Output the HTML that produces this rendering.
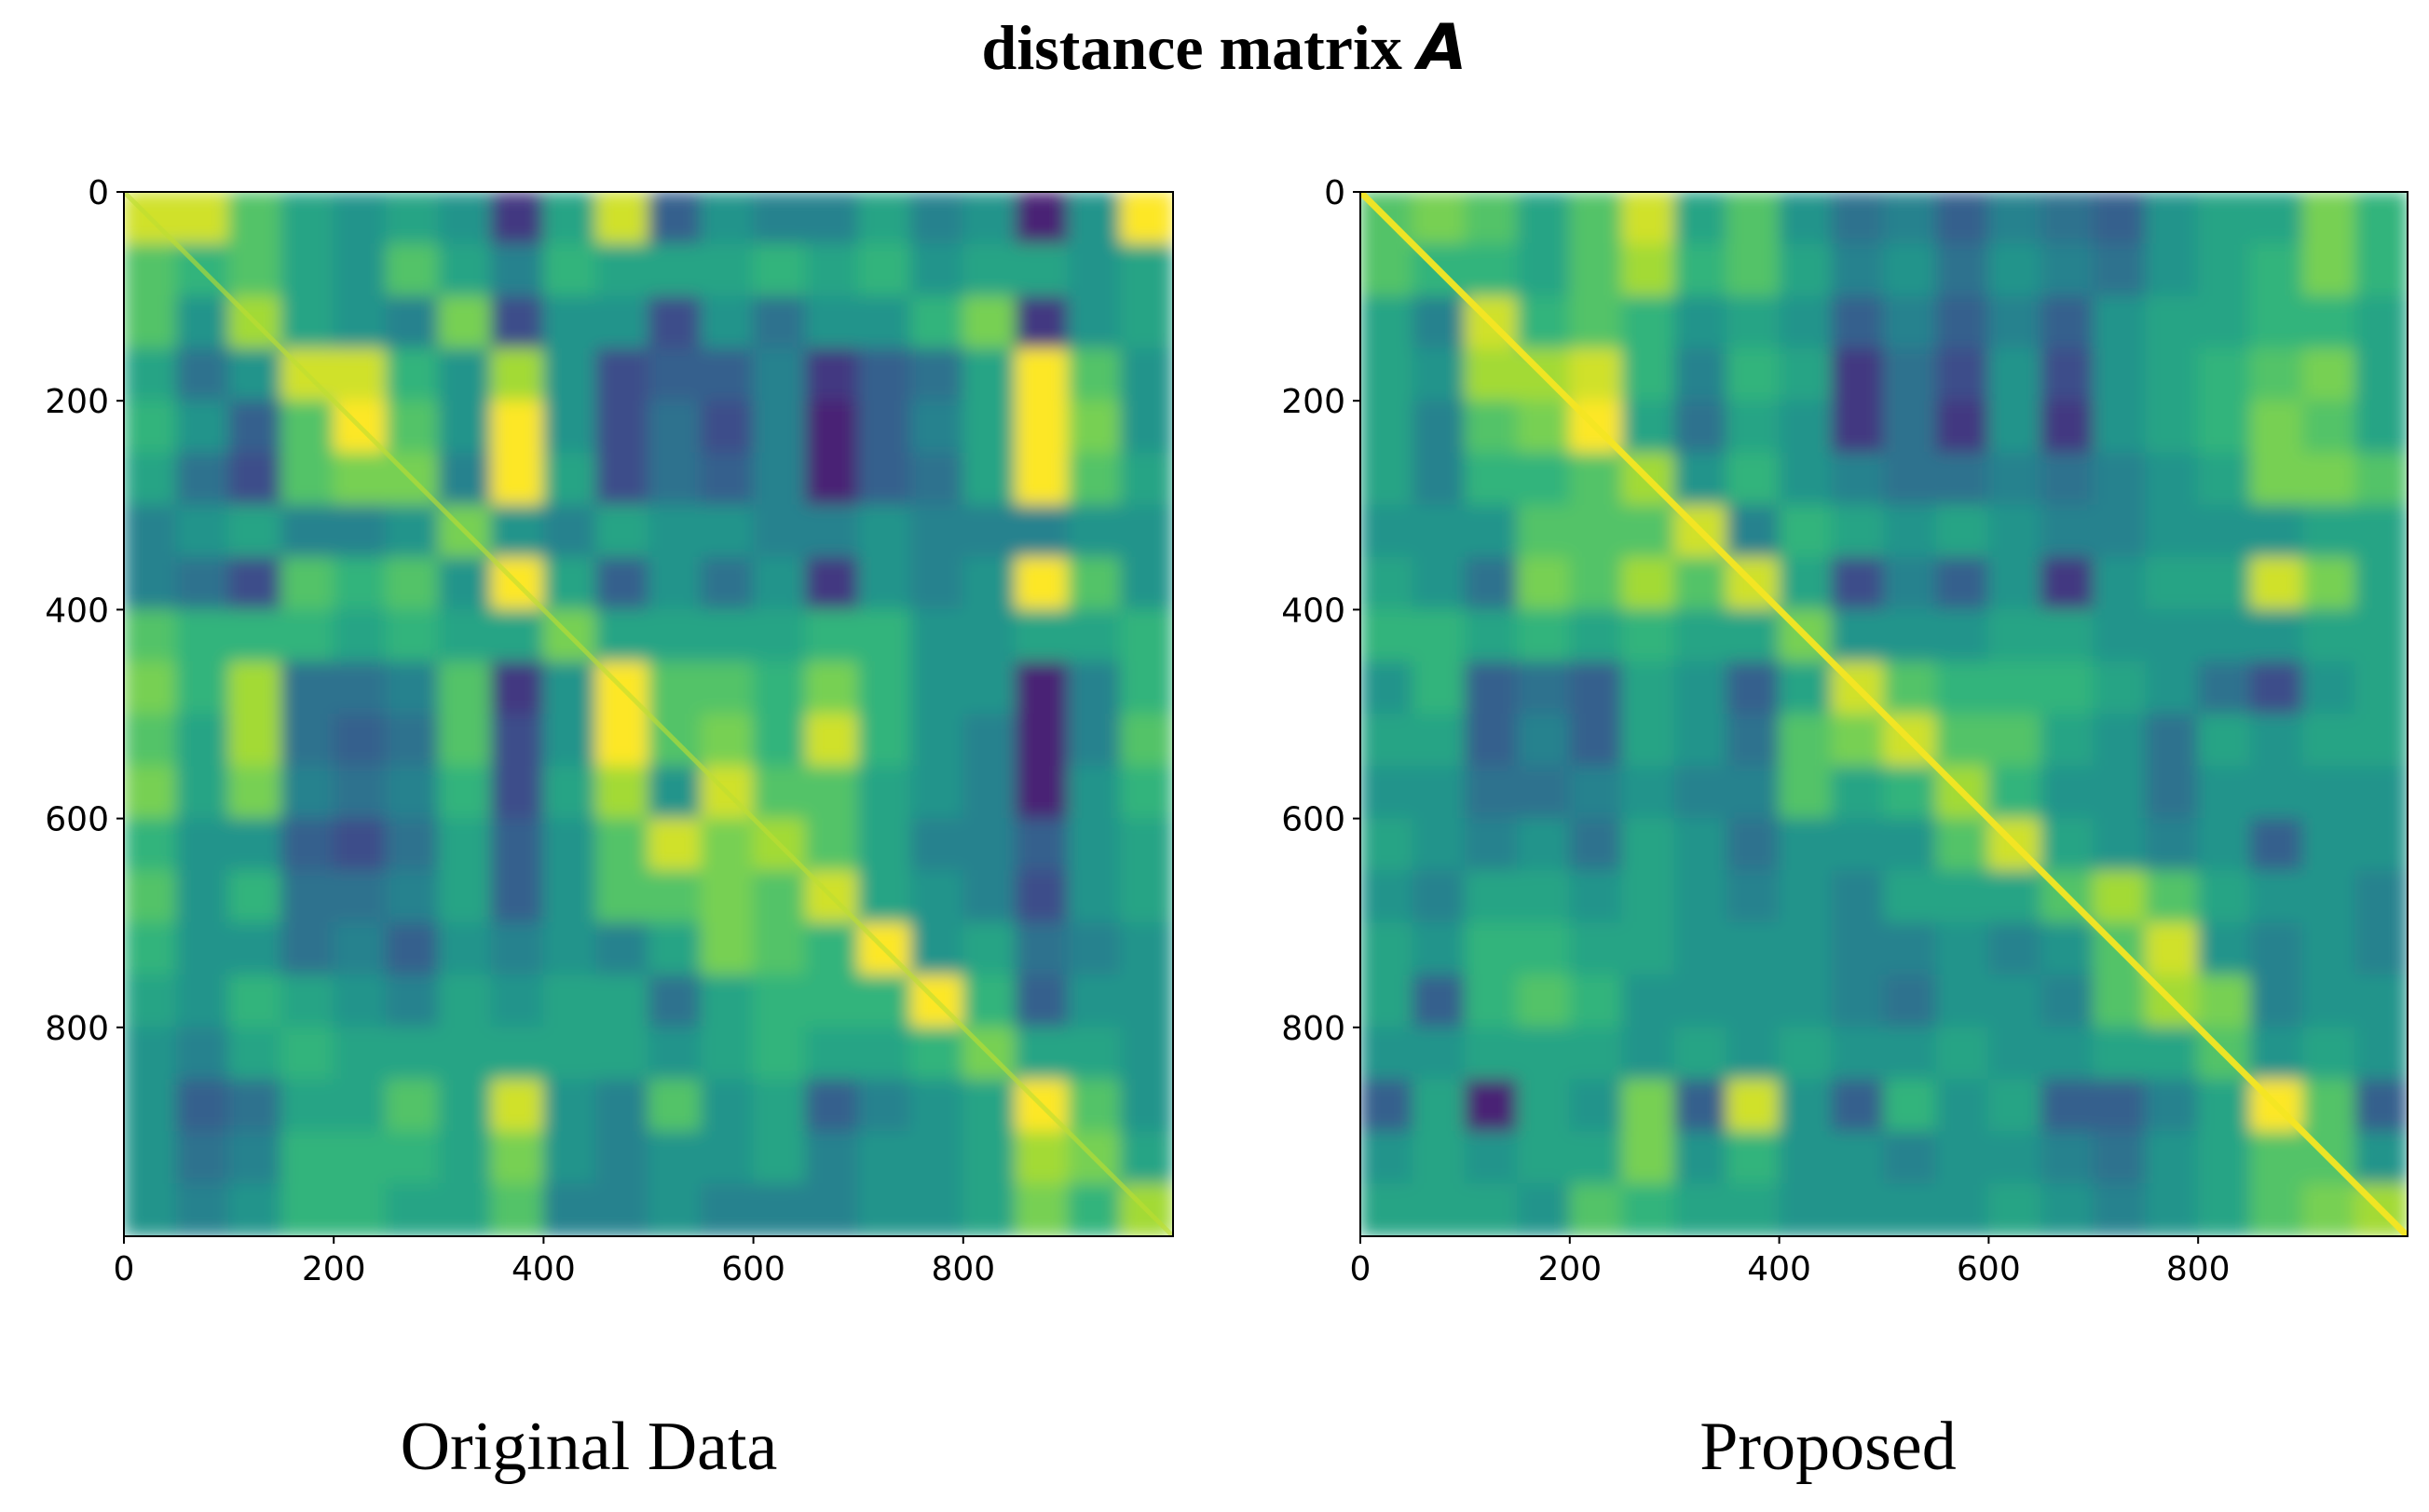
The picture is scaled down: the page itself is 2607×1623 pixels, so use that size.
<!DOCTYPE html>
<html><head><meta charset="utf-8"><style>
html,body{margin:0;padding:0;background:#fff;}
svg{display:block;}
</style></head><body>
<svg id="fig" width="2607" height="1623" viewBox="0 0 2607 1623" xmlns="http://www.w3.org/2000/svg">
<defs>
<filter id="soft" x="0" y="0" width="1" height="1" filterUnits="objectBoundingBox">
<feGaussianBlur stdDeviation="9" edgeMode="duplicate"/>
</filter>
<clipPath id="clipL"><rect x="133" y="206" width="1126" height="1121"/></clipPath>
<clipPath id="clipR"><rect x="1460" y="206" width="1124" height="1121"/></clipPath>
</defs>
<text x="1314" y="74" text-anchor="middle" font-family="Liberation Serif, serif" font-weight="bold" font-size="68">distance matrix 𝘼</text>
<text x="632" y="1577" text-anchor="middle" font-family="Liberation Serif, serif" font-size="74">Original Data</text>
<text x="1962" y="1577" text-anchor="middle" font-family="Liberation Serif, serif" font-size="74">Proposed</text>
<g id="panelL"></g>
<g id="panelR"></g>
</svg>
<script>
const ticks = [0,200,400,600,800];
const tickLabels = ["0","200","400","600","800"];
const nPoints = 1000;
const origData = [
[0.75,0.75,0.6,0.5,0.45,0.5,0.45,0.2,0.5,0.75,0.3,0.45,0.4,0.4,0.5,0.4,0.45,0.15,0.45,0.8],
[0.6,0.55,0.6,0.5,0.45,0.6,0.5,0.4,0.55,0.5,0.5,0.5,0.55,0.5,0.55,0.45,0.5,0.5,0.45,0.5],
[0.6,0.45,0.7,0.5,0.45,0.4,0.65,0.25,0.45,0.45,0.25,0.45,0.35,0.45,0.45,0.55,0.65,0.2,0.45,0.5],
[0.5,0.35,0.45,0.75,0.75,0.55,0.45,0.7,0.45,0.25,0.3,0.3,0.4,0.2,0.3,0.35,0.5,0.8,0.6,0.45],
[0.55,0.45,0.3,0.6,0.8,0.6,0.45,0.8,0.45,0.25,0.35,0.25,0.4,0.15,0.3,0.4,0.5,0.85,0.65,0.45],
[0.5,0.35,0.25,0.6,0.65,0.65,0.4,0.8,0.5,0.25,0.35,0.3,0.4,0.15,0.3,0.35,0.5,0.85,0.6,0.5],
[0.4,0.45,0.5,0.4,0.4,0.45,0.65,0.45,0.4,0.5,0.45,0.45,0.4,0.4,0.45,0.4,0.4,0.4,0.45,0.45],
[0.4,0.35,0.25,0.6,0.55,0.6,0.45,0.85,0.5,0.3,0.45,0.35,0.45,0.2,0.45,0.4,0.45,0.8,0.6,0.45],
[0.6,0.55,0.55,0.55,0.5,0.55,0.5,0.5,0.65,0.5,0.5,0.5,0.5,0.55,0.55,0.45,0.45,0.5,0.5,0.55],
[0.65,0.55,0.7,0.35,0.35,0.4,0.6,0.2,0.45,0.8,0.6,0.6,0.55,0.65,0.55,0.45,0.45,0.15,0.4,0.55],
[0.6,0.5,0.7,0.35,0.3,0.35,0.6,0.25,0.45,0.85,0.6,0.65,0.55,0.75,0.55,0.45,0.4,0.15,0.4,0.6],
[0.65,0.5,0.65,0.4,0.35,0.4,0.55,0.25,0.5,0.7,0.45,0.75,0.6,0.6,0.5,0.45,0.4,0.15,0.45,0.55],
[0.55,0.45,0.45,0.3,0.25,0.35,0.5,0.3,0.45,0.6,0.75,0.65,0.7,0.6,0.5,0.4,0.4,0.3,0.45,0.5],
[0.6,0.45,0.55,0.35,0.35,0.4,0.5,0.3,0.45,0.6,0.6,0.65,0.6,0.75,0.5,0.45,0.4,0.25,0.45,0.5],
[0.55,0.45,0.45,0.35,0.4,0.3,0.45,0.4,0.45,0.4,0.5,0.65,0.6,0.55,0.8,0.45,0.5,0.35,0.4,0.45],
[0.5,0.45,0.55,0.5,0.45,0.4,0.5,0.45,0.5,0.5,0.35,0.5,0.55,0.55,0.55,0.8,0.55,0.3,0.45,0.45],
[0.45,0.4,0.5,0.55,0.5,0.5,0.5,0.5,0.5,0.5,0.45,0.5,0.55,0.5,0.5,0.55,0.65,0.5,0.5,0.45],
[0.45,0.3,0.35,0.5,0.5,0.6,0.5,0.75,0.45,0.4,0.6,0.45,0.5,0.3,0.4,0.45,0.5,0.85,0.6,0.45],
[0.45,0.35,0.4,0.55,0.55,0.55,0.5,0.65,0.45,0.4,0.45,0.45,0.5,0.4,0.45,0.45,0.5,0.7,0.65,0.5],
[0.45,0.4,0.45,0.55,0.55,0.5,0.5,0.6,0.4,0.4,0.45,0.4,0.4,0.4,0.45,0.45,0.5,0.65,0.55,0.7]
];
const propData = [
[0.6,0.65,0.6,0.5,0.6,0.75,0.5,0.6,0.45,0.35,0.4,0.3,0.4,0.35,0.3,0.45,0.5,0.5,0.65,0.55],
[0.6,0.55,0.55,0.5,0.6,0.7,0.55,0.6,0.5,0.4,0.45,0.35,0.45,0.4,0.35,0.45,0.5,0.55,0.65,0.55],
[0.5,0.4,0.75,0.55,0.6,0.55,0.45,0.5,0.45,0.3,0.4,0.3,0.4,0.3,0.45,0.5,0.5,0.55,0.55,0.5],
[0.5,0.45,0.7,0.7,0.75,0.55,0.4,0.55,0.5,0.2,0.35,0.25,0.45,0.25,0.45,0.5,0.55,0.6,0.65,0.5],
[0.5,0.4,0.6,0.65,0.8,0.5,0.35,0.5,0.45,0.2,0.35,0.2,0.45,0.2,0.45,0.5,0.55,0.65,0.6,0.5],
[0.5,0.4,0.55,0.55,0.6,0.7,0.45,0.55,0.45,0.4,0.35,0.35,0.4,0.35,0.4,0.45,0.5,0.65,0.65,0.6],
[0.45,0.45,0.45,0.6,0.6,0.6,0.75,0.4,0.55,0.5,0.45,0.5,0.45,0.4,0.4,0.45,0.45,0.45,0.5,0.5],
[0.5,0.45,0.35,0.65,0.6,0.7,0.6,0.75,0.5,0.25,0.4,0.3,0.45,0.2,0.45,0.5,0.5,0.75,0.65,0.5],
[0.55,0.55,0.5,0.55,0.5,0.55,0.5,0.5,0.65,0.45,0.45,0.45,0.5,0.5,0.45,0.45,0.45,0.45,0.5,0.5],
[0.45,0.55,0.3,0.35,0.3,0.5,0.45,0.3,0.5,0.75,0.6,0.55,0.55,0.55,0.5,0.45,0.35,0.25,0.45,0.5],
[0.5,0.5,0.3,0.4,0.3,0.5,0.45,0.35,0.6,0.65,0.75,0.6,0.6,0.5,0.45,0.35,0.5,0.45,0.5,0.5],
[0.45,0.45,0.35,0.35,0.4,0.45,0.4,0.4,0.6,0.5,0.55,0.7,0.55,0.45,0.45,0.35,0.45,0.45,0.45,0.45],
[0.5,0.45,0.4,0.45,0.35,0.5,0.45,0.35,0.45,0.45,0.45,0.6,0.75,0.5,0.45,0.4,0.45,0.3,0.45,0.45],
[0.45,0.4,0.5,0.5,0.45,0.5,0.45,0.4,0.45,0.4,0.5,0.5,0.5,0.6,0.7,0.6,0.5,0.45,0.45,0.4],
[0.5,0.45,0.55,0.55,0.5,0.5,0.45,0.45,0.45,0.4,0.4,0.45,0.4,0.45,0.6,0.75,0.45,0.4,0.45,0.4],
[0.5,0.3,0.55,0.6,0.55,0.45,0.45,0.45,0.45,0.4,0.35,0.45,0.45,0.4,0.6,0.7,0.65,0.4,0.45,0.45],
[0.45,0.45,0.5,0.5,0.5,0.45,0.5,0.45,0.5,0.45,0.45,0.5,0.45,0.45,0.5,0.5,0.6,0.45,0.5,0.45],
[0.3,0.5,0.15,0.5,0.45,0.65,0.3,0.75,0.45,0.3,0.55,0.45,0.5,0.3,0.3,0.4,0.5,0.85,0.6,0.3],
[0.45,0.5,0.45,0.5,0.5,0.65,0.45,0.55,0.45,0.45,0.4,0.45,0.45,0.4,0.35,0.45,0.5,0.6,0.6,0.45],
[0.5,0.5,0.5,0.45,0.6,0.55,0.5,0.5,0.45,0.45,0.45,0.45,0.5,0.45,0.4,0.45,0.5,0.6,0.65,0.7]
];
const diagLine = [0, 1000];

const NS = "http://www.w3.org/2000/svg";
const VIR = [[68,1,84],[72,40,120],[62,74,137],[49,104,142],[38,130,142],[31,158,137],[53,183,121],[110,206,88],[181,222,43],[253,231,37]];
function viridis(v){
  let t=(v-0.08)/0.72;
  t=Math.max(0,Math.min(1,t));
  const p=t*(VIR.length-1), i=Math.min(VIR.length-2,Math.floor(p)), f=p-i;
  const a=VIR[i], b=VIR[i+1];
  return `rgb(${Math.round(a[0]+(b[0]-a[0])*f)},${Math.round(a[1]+(b[1]-a[1])*f)},${Math.round(a[2]+(b[2]-a[2])*f)})`;
}
function mk(tag, attrs, parent){
  const e=document.createElementNS(NS,tag);
  for(const k in attrs) e.setAttribute(k,attrs[k]);
  parent.appendChild(e); return e;
}
function drawPanel(g, x0, y0, w, h, data, clipId, withDiag){
  const xs = v => x0 + v / nPoints * w;
  const ys = v => y0 + v / nPoints * h;
  const n = data.length, step = nPoints / n;
  const clipG = mk('g', {'clip-path':`url(#${clipId})`}, g);
  const cells = mk('g', {filter:'url(#soft)'}, clipG);
  
  
  data.forEach((row, r) => row.forEach((v, c) => {
    const rc = mk('rect', {x: xs(c*step)-0.5, y: ys(r*step)-0.5, width: xs((c+1)*step)-xs(c*step)+1, height: ys((r+1)*step)-ys(r*step)+1, fill: viridis(v)}, cells);
    
    
  }));
  const dl = mk('line', {x1: xs(diagLine[0]), y1: ys(diagLine[0]), x2: xs(diagLine[1]), y2: ys(diagLine[1]), stroke: withDiag ? 'rgb(245,230,35)' : 'rgb(190,222,50)', 'stroke-width': withDiag ? 7 : 5, opacity: withDiag ? 0.95 : 0.6}, clipG);
  
  
  const frame = mk('rect', {x: x0, y: y0, width: w, height: h, fill: 'none', stroke: '#000', 'stroke-width': 2}, g);
  
  
  ticks.forEach((t, i) => {
    const tx = mk('line', {x1: xs(t), x2: xs(t), y1: y0+h, y2: y0+h+8, stroke:'#000','stroke-width':2}, g);
    
    
    const lx = mk('text', {x: xs(t), y: y0+h+47, 'text-anchor':'middle', 'font-family':'DejaVu Sans, sans-serif', 'font-size': 36}, g);
    lx.textContent = tickLabels[i];
    
    
    const ty = mk('line', {x1: x0-8, x2: x0, y1: ys(t), y2: ys(t), stroke:'#000','stroke-width':2}, g);
    
    
    const ly = mk('text', {x: x0-16, y: ys(t)+13, 'text-anchor':'end', 'font-family':'DejaVu Sans, sans-serif', 'font-size': 36}, g);
    ly.textContent = tickLabels[i];
    
    
  });
}
drawPanel(document.getElementById('panelL'), 133, 206, 1126, 1121, origData, 'clipL', false);
drawPanel(document.getElementById('panelR'), 1460, 206, 1124, 1121, propData, 'clipR', true);
</script>
</body></html>
